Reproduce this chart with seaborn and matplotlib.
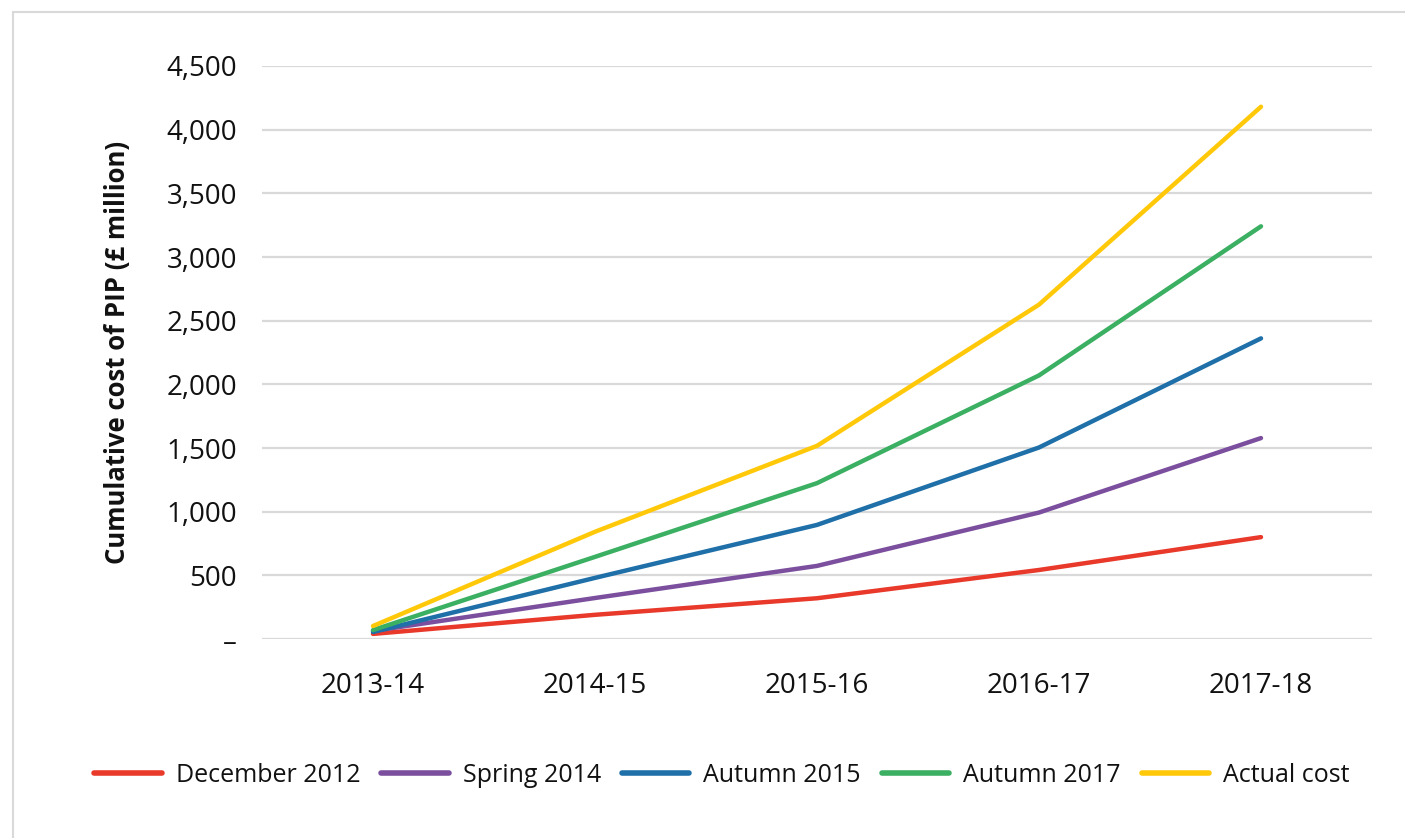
#!/usr/bin/env python3
"""
Cumulative cost of PIP: forecasts at different dates versus actual cost.
"""

import pandas as pd
import matplotlib.pyplot as plt
import matplotlib.ticker as mticker
import seaborn as sns
from matplotlib.patches import Rectangle

# Data (£ million)
years = ['2013-14', '2014-15', '2015-16', '2016-17', '2017-18']
december_2012 = [40, 190, 320, 542, 800]
spring_2014 = [63, 322, 574, 993, 1578]
autumn_2015 = [55, 480, 896, 1504, 2361]
autumn_2017 = [70, 645, 1224, 2070, 3241]
actual_cost = [102, 842, 1517, 2626, 4180]

series_names = ['December 2012', 'Spring 2014', 'Autumn 2015', 'Autumn 2017', 'Actual cost']
series_colors = ['#E8392A', '#7B4F9E', '#1F6FA8', '#3BAF62', '#FFC90A']
y_ticks = [0, 500, 1000, 1500, 2000, 2500, 3000, 3500, 4000, 4500]


def build_frame():
    rows = []
    for name, values in zip(series_names,
                            [december_2012, spring_2014, autumn_2015,
                             autumn_2017, actual_cost]):
        for year, value in zip(years, values):
            rows.append({'Year': year, 'Series': name, 'Cost': value})
    return pd.DataFrame(rows)


def main():
    df = build_frame()

    sns.set_theme(style='white')
    plt.rcParams['font.family'] = ['Open Sans', 'DejaVu Sans']

    fig = plt.figure(figsize=(14.05, 8.38), dpi=100)
    ax = fig.add_axes([262 / 1405, 1 - 639 / 838, 1110 / 1405, 573 / 838])

    sns.lineplot(data=df, x='Year', y='Cost', hue='Series',
                 hue_order=series_names,
                 palette=dict(zip(series_names, series_colors)),
                 linewidth=3.2, ax=ax, sort=False,
                 solid_capstyle='round')

    ax.set_xlim(-0.5, len(years) - 0.5)
    ax.set_ylim(0, 4500)
    ax.set_yticks(y_ticks)
    ax.yaxis.set_major_formatter(mticker.FuncFormatter(
        lambda v, _: '–' if v == 0 else f'{int(v):,}'))
    ax.grid(axis='y', color='#d9d9d9', linewidth=1.6)
    ax.set_axisbelow(True)
    for side in ['top', 'right', 'left', 'bottom']:
        ax.spines[side].set_visible(False)
    ax.tick_params(axis='y', labelsize=20, pad=18, length=0, labelcolor='#111111')
    ax.tick_params(axis='x', labelsize=20, pad=24, length=0, labelcolor='#111111')
    ax.set_xlabel('')
    ax.set_ylabel('Cumulative cost of PIP (£ million)', fontsize=18.5,
                  fontweight='bold', color='#111111')
    ax.yaxis.set_label_coords(-0.118, 0.5)

    leg = ax.legend(loc='center', bbox_to_anchor=(722 / 1405, 1 - 775 / 838),
                    bbox_transform=fig.transFigure, ncol=5, frameon=False,
                    fontsize=18, handlelength=2.7, handletextpad=0.56,
                    columnspacing=0.84)
    for line in leg.get_lines():
        line.set_linewidth(4)
        line.set_solid_capstyle('round')
    for t in leg.get_texts():
        t.set_color('#111111')

    # light grey outline round the chart area (runs off the right and bottom)
    fig.patches.append(Rectangle((13 / 1405, -0.05), 1.2, 1 - 12 / 838 + 0.05,
                                 transform=fig.transFigure, fill=False,
                                 edgecolor='#d9d9d9', linewidth=1.5))

    fig.savefig('out.png', dpi=100)


if __name__ == '__main__':
    main()
